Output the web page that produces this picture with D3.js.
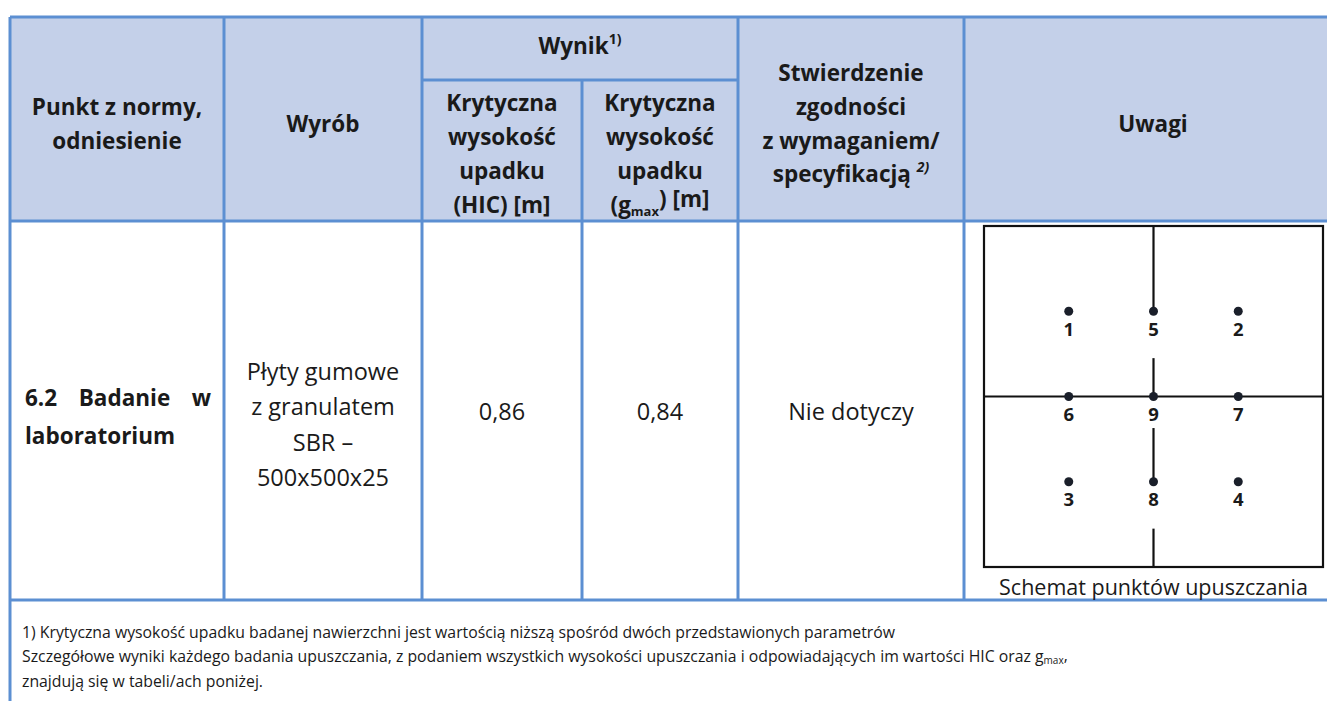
<!DOCTYPE html>
<html>
<head>
<meta charset="utf-8">
<script src="https://cdn.jsdelivr.net/npm/d3@7"></script>
<style>
  body { margin: 0; background: #fff; }
  svg { display: block; }
  text { font-family: "Open Sans", "Noto Sans", sans-serif; fill: #1a1a1a; }
</style>
</head>
<body>
<script>
// column edges and row edges of the table
var colEdges = [10, 224, 422, 582, 738, 964, 1340];
var rowEdges = [17, 80, 221, 600, 720];

// header texts (lines)
var headPunkt = ['Punkt z normy,', 'odniesienie'];
var headWyrob = ['Wyrób'];
var headHic = ['Krytyczna', 'wysokość', 'upadku', '(HIC) [m]'];
var headGmax = ['Krytyczna', 'wysokość', 'upadku'];
var headZgod = ['Stwierdzenie', 'zgodności', 'z wymaganiem/'];
var headUwagi = ['Uwagi'];

// body values
var bodyPunktWords = ['6.2', 'Badanie', 'w'];
var bodyPunkt2 = 'laboratorium';
var bodyWyrob = ['Płyty gumowe', 'z granulatem', 'SBR –', '500x500x25'];
var valHic = '0,86';
var valGmax = '0,84';
var valZgod = 'Nie dotyczy';

// drop points: label, column, row on a 4x4 grid of the plate
var dropPoints = [
  {n: '1', c: 1, r: 1}, {n: '5', c: 2, r: 1}, {n: '2', c: 3, r: 1},
  {n: '6', c: 1, r: 2}, {n: '9', c: 2, r: 2}, {n: '7', c: 3, r: 2},
  {n: '3', c: 1, r: 3}, {n: '8', c: 2, r: 3}, {n: '4', c: 3, r: 3}
];

var footLines = [
  '1) Krytyczna wysokość upadku badanej nawierzchni jest wartością niższą spośród dwóch przedstawionych parametrów',
  'Szczegółowe wyniki każdego badania upuszczania, z podaniem wszystkich wysokości upuszczania i odpowiadających im wartości HIC oraz g',
  'znajdują się w tabeli/ach poniżej.'
];

var W = 1327, H = 701;
var blue = '#5c8fd2', fillHead = '#c4d0e9';
var HS = 22.5; // header font size
var BS = 23.5; // body font size

var svg = d3.select('body').append('svg')
  .attr('width', W)
  .attr('height', H);

// header background
svg.append('rect')
  .attr('x', colEdges[0]).attr('y', rowEdges[0])
  .attr('width', W - colEdges[0] + 10).attr('height', rowEdges[2] - rowEdges[0])
  .attr('fill', fillHead);

// grid lines
function line(x1, y1, x2, y2) {
  svg.append('line')
    .attr('x1', x1).attr('y1', y1).attr('x2', x2).attr('y2', y2)
    .attr('stroke', blue).attr('stroke-width', 3);
}
line(colEdges[0], rowEdges[0], W + 5, rowEdges[0]);
line(colEdges[2], rowEdges[1], colEdges[4], rowEdges[1]);
line(colEdges[0], rowEdges[2], W + 5, rowEdges[2]);
line(colEdges[0], rowEdges[3], W + 5, rowEdges[3]);
line(colEdges[0], rowEdges[0], colEdges[0], H + 5);
[1, 2, 4, 5].forEach(function(i) { line(colEdges[i], rowEdges[0], colEdges[i], rowEdges[3]); });
line(colEdges[3], rowEdges[1], colEdges[3], rowEdges[3]);

function mid(i) { return (colEdges[i] + colEdges[i + 1]) / 2; }

function block(lines, x, yc, opts) {
  opts = opts || {};
  var lh = opts.lh || 34;
  var y0 = yc - (lines.length - 1) * lh / 2;
  var t = svg.append('g').selectAll('text').data(lines).enter().append('text')
    .attr('x', x)
    .attr('y', function(d, i) { return y0 + i * lh; })
    .attr('dy', '0.35em')
    .attr('text-anchor', opts.anchor || 'middle')
    .attr('font-size', opts.size || HS)
    .attr('font-weight', opts.bold ? 700 : 400)
    .style('white-space', 'pre')
    .text(function(d) { return d; });
  return t;
}

// header
block(headPunkt, mid(0), 124, {bold: true});
block(headWyrob, mid(1), 124, {bold: true});
block(headHic, mid(2), 154, {bold: true});
block(headGmax, mid(3), 137, {bold: true});
block(headZgod, mid(4), 107, {bold: true});
block(headUwagi, 1153, 124, {bold: true});

var wynik = svg.append('text')
  .attr('x', (colEdges[2] + colEdges[4]) / 2).attr('y', 46).attr('dy', '0.35em')
  .attr('text-anchor', 'middle').attr('font-size', HS).attr('font-weight', 700);
wynik.append('tspan').text('Wynik');
wynik.append('tspan').attr('font-size', 14).attr('dy', '-0.7em').text('1)');

var gm = svg.append('text')
  .attr('x', mid(3)).attr('y', 205).attr('dy', '0.35em')
  .attr('text-anchor', 'middle').attr('font-size', HS).attr('font-weight', 700);
gm.append('tspan').text('(g');
gm.append('tspan').attr('font-size', 13).attr('dy', '0.25em').text('max');
gm.append('tspan').attr('dy', '-0.4em').text(') [m]');

var sp = svg.append('text')
  .attr('x', mid(4)).attr('y', 174).attr('dy', '0.35em')
  .attr('text-anchor', 'middle').attr('font-size', HS).attr('font-weight', 700);
sp.append('tspan').text('specyfikacją ');
sp.append('tspan').attr('font-size', 14).attr('font-style', 'italic').attr('dy', '-0.7em').text('2)');

// body: first column is justified, so words are placed one by one
var pL = 25, pR = 211;
var pw = svg.append('g').selectAll('text').data(bodyPunktWords).enter().append('text')
  .attr('y', 398).attr('dy', '0.35em')
  .attr('font-size', BS - 1).attr('font-weight', 700)
  .text(function(d) { return d; });
var wl = pw.nodes().map(function(n) { return n.getComputedTextLength(); });
var gap = (pR - pL - d3.sum(wl)) / (wl.length - 1);
pw.attr('x', function(d, i) { return pL + d3.sum(wl.slice(0, i)) + i * gap; });
block([bodyPunkt2], pL, 436, {bold: true, anchor: 'start', size: BS - 1});

block(bodyWyrob, mid(1), 425, {lh: 35.5, size: BS});
block([valHic], mid(2), 412, {size: BS});
block([valGmax], mid(3), 412, {size: BS});
block([valZgod], mid(4), 412, {size: BS});

// drop point scheme
var box = {x0: 984, x1: 1323, y0: 226, y1: 567};
var sx = d3.scaleLinear().domain([0, 4]).range([box.x0, box.x1]);
var sy = d3.scaleLinear().domain([0, 4]).range([box.y0, box.y1]);
var g = svg.append('g');
g.append('rect')
  .attr('x', box.x0).attr('y', box.y0)
  .attr('width', box.x1 - box.x0).attr('height', box.y1 - box.y0)
  .attr('fill', 'none').attr('stroke', '#111').attr('stroke-width', 2.2);
g.append('line')
  .attr('x1', sx(0)).attr('x2', sx(4)).attr('y1', sy(2)).attr('y2', sy(2))
  .attr('stroke', '#111').attr('stroke-width', 2.2);
// vertical line broken around the labels on the centre column
var vsegs = [[0, 1], [1.55, 2], [2.37, 3], [3.55, 4]];
g.selectAll('line.v').data(vsegs).enter().append('line')
  .attr('class', 'v')
  .attr('x1', sx(2)).attr('x2', sx(2))
  .attr('y1', function(d) { return sy(d[0]); })
  .attr('y2', function(d) { return sy(d[1]); })
  .attr('stroke', '#111').attr('stroke-width', 2.2);
g.selectAll('circle').data(dropPoints).enter().append('circle')
  .attr('cx', function(d) { return sx(d.c); })
  .attr('cy', function(d) { return sy(d.r); })
  .attr('r', 4.5).attr('fill', '#1a1f2a');
g.selectAll('text.n').data(dropPoints).enter().append('text')
  .attr('class', 'n')
  .attr('x', function(d) { return sx(d.c); })
  .attr('y', function(d) { return sy(d.r) + 18; })
  .attr('dy', '0.35em')
  .attr('text-anchor', 'middle').attr('font-size', 18.5).attr('font-weight', 700)
  .text(function(d) { return d.n; });
svg.append('text')
  .attr('x', (box.x0 + box.x1) / 2).attr('y', 587).attr('dy', '0.35em')
  .attr('text-anchor', 'middle').attr('font-size', 21.5)
  .text('Schemat punktów upuszczania');

// footnotes
var ft = svg.append('g').selectAll('text').data(footLines).enter().append('text')
  .attr('x', 22)
  .attr('y', function(d, i) { return 632 + i * 24.5; })
  .attr('dy', '0.35em')
  .attr('font-size', 15.8)
  .text(function(d) { return d; });
d3.select(ft.nodes()[1]).append('tspan').attr('font-size', 10).attr('dy', '0.2em').text('max');
d3.select(ft.nodes()[1]).append('tspan').attr('dy', '-0.2em').text(',');
</script>
</body>
</html>
